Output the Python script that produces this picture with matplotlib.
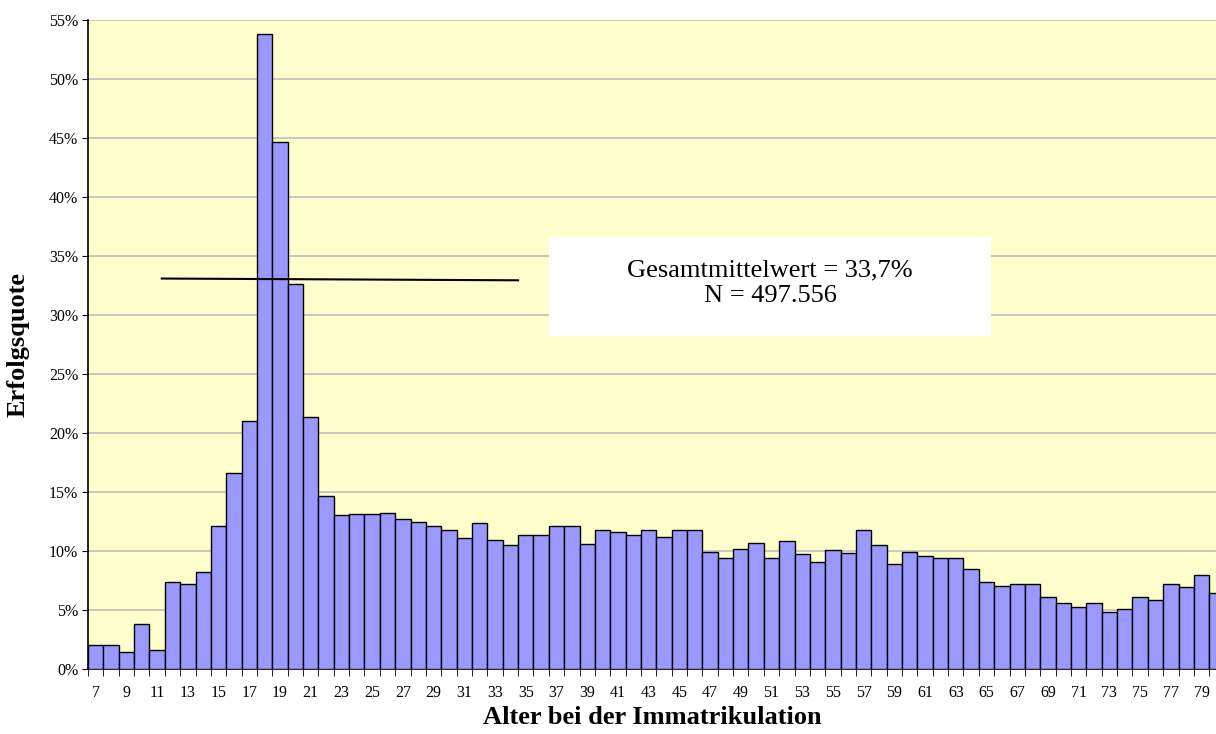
import numpy as np
import matplotlib
matplotlib.use("Agg")
import matplotlib.pyplot as plt
from matplotlib.patches import Rectangle
from matplotlib.ticker import FixedLocator, FuncFormatter

plt.rcParams['font.family'] = ['Liberation Serif', 'DejaVu Serif']

# Alter bei der Immatrikulation (7..80) und Erfolgsquote in %
ages = list(range(7, 81))
quote = [2.08, 2.03, 1.46, 3.86, 1.63, 7.36, 7.19, 8.23, 12.1, 16.63,
         21.03, 53.8, 44.7, 32.6, 21.4, 14.66, 13.03, 13.17, 13.15, 13.28,
         12.72, 12.49, 12.1, 11.79, 11.11, 12.4, 10.94, 10.49, 11.42, 11.36,
         12.1, 12.18, 10.6, 11.84, 11.64, 11.36, 11.82, 11.22, 11.82, 11.76,
         9.98, 9.42, 10.2, 10.69, 9.47, 10.88, 9.81, 9.05, 10.12, 9.87,
         11.79, 10.49, 8.88, 9.98, 9.61, 9.39, 9.39, 8.49, 7.36, 7.07,
         7.24, 7.19, 6.14, 5.58, 5.3, 5.63, 4.87, 5.1, 6.14, 5.84,
         7.19, 6.96, 7.95, 6.48]

# Gesamtmittelwert-Linie (wie im Original von Hand gezogen)
mean_x = [11.3, 34.5]
mean_y = [33.1, 32.95]

fig = plt.figure(figsize=(12.16, 7.34), dpi=100)
ax = fig.add_axes([0.0724, 0.0881, 0.9276, 0.8847])
ax.set_facecolor('#FFFFCC')

ax.bar(ages, quote, width=1.0, color='#9999FF', edgecolor='black', linewidth=1.0, zorder=3)
ax.plot(mean_x, mean_y, color='black', linewidth=1.5, zorder=4)

ax.set_xlim(6.5, 79.94)
ax.set_ylim(0, 55)

# y axis
ax.set_yticks(np.arange(0, 56, 5))
ax.yaxis.set_major_formatter(FuncFormatter(lambda v, p: f"{int(v)}%"))
ax.grid(axis='y', color='#BDBDBD', linewidth=1.2, zorder=0)
ax.tick_params(axis='y', direction='out', length=4, labelsize=11.5, pad=3)

# x axis: labels on odd ages, tick marks on bar boundaries
ax.set_xticks(ages[::2])
ax.xaxis.set_minor_locator(FixedLocator(np.arange(6.5, 80.5, 1.0)))
ax.tick_params(axis='x', which='major', length=0, labelsize=11.5, pad=11)
ax.tick_params(axis='x', which='minor', direction='out', length=5)

for s in ['top', 'right']:
    ax.spines[s].set_visible(False)
ax.spines['left'].set_linewidth(1.2)
ax.spines['bottom'].set_linewidth(1.2)

ax.set_xlabel('Alter bei der Immatrikulation', fontsize=19, fontweight='bold', labelpad=4)
ax.set_ylabel('Erfolgsquote', fontsize=19, fontweight='bold', labelpad=14)

# Textbox
ax.add_patch(Rectangle((0.4087, 0.5133), 0.3918, 0.1525, transform=ax.transAxes,
                       facecolor='white', edgecolor='none', zorder=5))
ax.text(0.6046, 0.594, 'Gesamtmittelwert = 33,7%\nN = 497.556', transform=ax.transAxes,
        ha='center', va='center', fontsize=19, linespacing=1.2, zorder=6)

plt.savefig('out.png', dpi=100)
